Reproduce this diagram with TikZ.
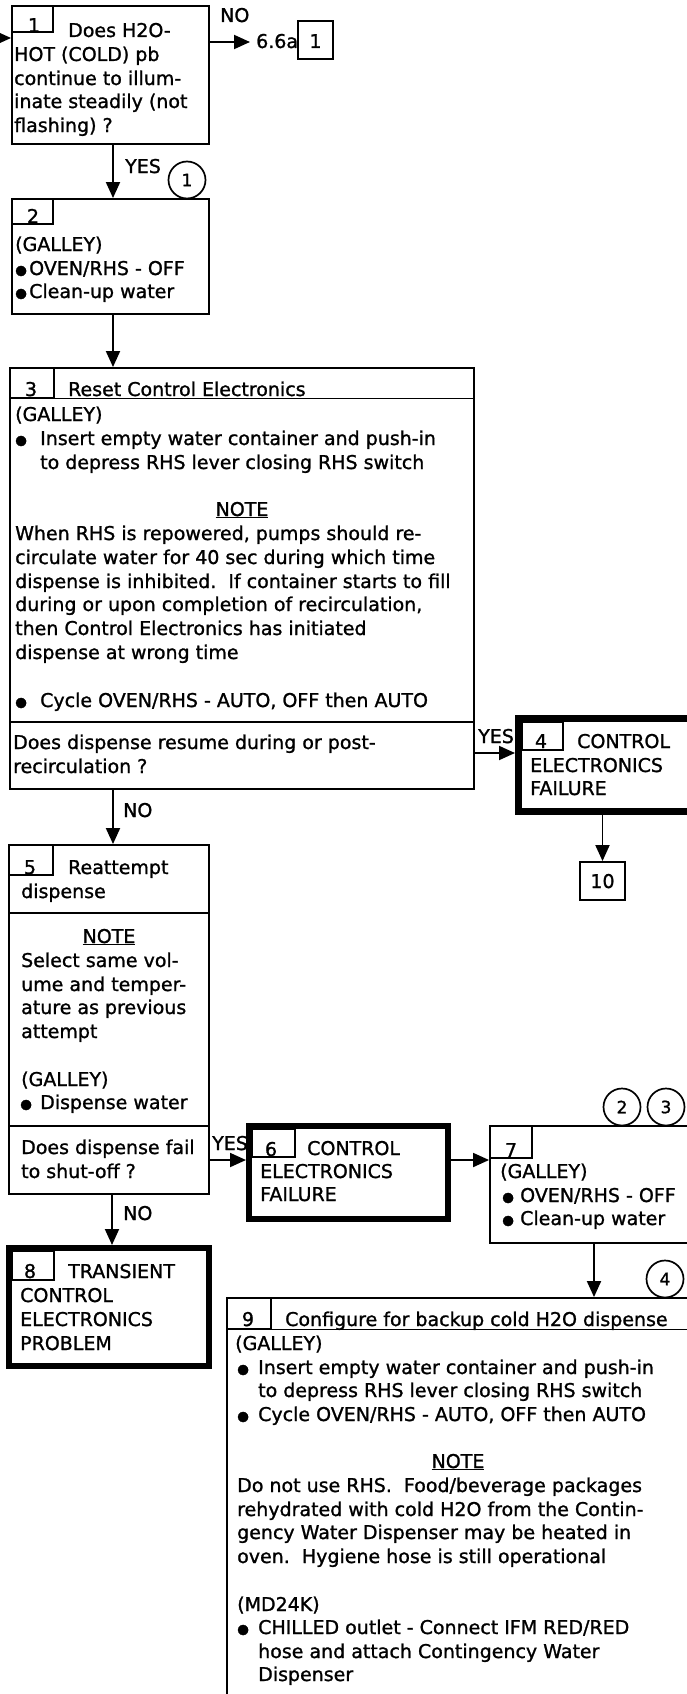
\documentclass[tikz,border=0pt]{standalone}
\usepackage{fontspec}
\setmainfont{DejaVu Sans}[FakeBold=1.2]
\usetikzlibrary{arrows.meta,fit}
\newcommand\bulsym{{\fontsize{13.5}{14}\selectfont\raisebox{0.5pt}{●}}}
\newcommand\bulw[1]{\makebox[#1][l]{\bulsym}}
\begin{document}
\begin{tikzpicture}[x=1pt,y=-1pt,
  box/.style={draw, line width=1.9pt, inner sep=0pt},
  heavybox/.style={draw, line width=6pt, inner sep=0pt},
  tabbox/.style={draw, line width=1.3pt, inner sep=0pt},
  tx/.style={anchor=base west, inner sep=0pt, font=\fontsize{19}{23}\selectfont},
  txc/.style={tx, anchor=base},
  arr/.style={line width=1.9pt, -{Triangle[length=16pt,width=14pt]}},
  circ/.style={draw, circle, line width=1.7pt, minimum size=37pt, inner sep=0pt, font=\fontsize{17}{20}\selectfont}
]
\useasboundingbox (0,0) rectangle (687,1694);
\clip (0,0) rectangle (687,1694);

% ---------- box 1
\node[box, fit={(12,6)(209,144)}] (b1) {};
\node[tabbox, fit={(12,6)(53,32)}] (t1) {};
\node[txc] (n1) at (34,32) {1};
\node[tx] (l1a) at (68,37) {Does H2O-};
\node[tx] (l1b) at (14,61) {HOT (COLD) pb};
\node[tx] (l1c) at (14,85) {continue to illum-};
\node[tx] (l1d) at (14,108) {inate steadily (not};
\node[tx] (l1e) at (14,132) {flashing) ?};
\coordinate (in1) at (-30,38);
\draw[arr] (in1) -- (b1.west |- in1);

% NO exit
\node[box, fit={(298,21)(333,59)}] (r1) {};
\node[txc] (r1t) at (315.5,48) {1};
\node[tx] (ref) at (256,48) {6.6a};
\coordinate (noend) at (250,42);
\draw[arr] (b1.east |- noend) -- (noend);
\node[tx] (lno1) at (220,22) {NO};

% ---------- box 2
\node[box, fit={(12,199)(209,314)}] (b2) {};
\node[tabbox, fit={(12,199)(53,224)}] (t2) {};
\node[txc] (n2) at (33,223) {2};
\node[tx] (l2a) at (15,251) {(GALLEY)};
\node[tx] (l2b) at (15,275) {\bulw{14pt}OVEN/RHS - OFF};
\node[tx] (l2c) at (15,298) {\bulw{14pt}Clean-up water};
\coordinate (x113) at (113,0);
\draw[arr] (b1.south -| x113) -- (b2.north -| x113);
\node[tx] (lyes1) at (125,173) {YES};
\node[circ] (c1) at (187,180) {1};

% ---------- box 3
\node[box, fit={(10,368)(474,789)}] (b3) {};
\node[tabbox, fit={(10,368)(54,398)}] (t3) {};
\draw[line width=1.3pt] (b3.west |- t3.south) -- (b3.east |- t3.south);
\coordinate (d3) at (0,722);
\draw[line width=1.3pt] (b3.west |- d3) -- (b3.east |- d3);
\draw[arr] (b2.south -| x113) -- (b3.north -| x113);
\node[txc] (n3) at (31,396) {3};
\node[tx] (h3) at (68,396) {Reset Control Electronics};
\node[tx] (l3a) at (15,421) {(GALLEY)};
\node[tx] (l3b) at (15,445) {\bulw{25pt}Insert empty water container and push-in};
\node[tx] (l3c) at (40,469) {to depress RHS lever closing RHS switch};
\node[txc] (l3d) at (242,516) {\underline{NOTE}};
\node[tx] (l3e) at (15,540) {When RHS is repowered, pumps should re-};
\node[tx] (l3f) at (15,564) {circulate water for 40 sec during which time};
\node[tx] (l3g) at (15,588) {dispense is inhibited.\ \ If container starts to fill};
\node[tx] (l3h) at (15,611) {during or upon completion of recirculation,};
\node[tx] (l3i) at (15,635) {then Control Electronics has initiated};
\node[tx] (l3j) at (15,659) {dispense at wrong time};
\node[tx] (l3k) at (15,707) {\bulw{25pt}Cycle OVEN/RHS - AUTO, OFF then AUTO};
\node[tx] (l3l) at (13,749) {Does dispense resume during or post-};
\node[tx] (l3m) at (13,773) {recirculation ?};

% ---------- box 4
\node[heavybox, line width=7pt, fit={(518.5,718.5)(720,811.5)}] (b4) {};
\node[tabbox, fit={(522,722)(563,750)}] (t4) {};
\node[txc] (n4) at (541,748) {4};
\node[tx] (l4a) at (577,748) {CONTROL};
\node[tx] (l4b) at (530,772) {ELECTRONICS};
\node[tx] (l4c) at (530,795) {FAILURE};
\coordinate (y753) at (0,753);
\draw[arr] (b3.east |- y753) -- (b4.west |- y753);
\node[tx] (lyes3) at (478,743) {YES};

% box 10
\node[box, fit={(580,862)(625,900)}] (b10) {};
\node[txc] (n10) at (602.5,888) {10};
\draw[arr] (b4.south -| b10) -- (b10.north);

% ---------- box 5
\node[box, fit={(9,845)(209,1194)}] (b5) {};
\node[tabbox, fit={(9,845)(53,875)}] (t5) {};
\coordinate (d5a) at (0,913);
\coordinate (d5b) at (0,1126);
\draw[line width=1.3pt] (b5.west |- d5a) -- (b5.east |- d5a);
\draw[line width=1.3pt] (b5.west |- d5b) -- (b5.east |- d5b);
\node[txc] (n5) at (30,874) {5};
\node[tx] (l5a) at (68,874) {Reattempt};
\node[tx] (l5b) at (21,898) {dispense};
\node[txc] (l5c) at (109,943) {\underline{NOTE}};
\node[tx] (l5d) at (21,967) {Select same vol-};
\node[tx] (l5e) at (21,991) {ume and temper-};
\node[tx] (l5f) at (21,1014) {ature as previous};
\node[tx] (l5g) at (21,1038) {attempt};
\node[tx] (l5h) at (21,1086) {(GALLEY)};
\node[tx] (l5i) at (20,1109) {\bulw{20pt}Dispense water};
\node[tx] (l5j) at (21,1154) {Does dispense fail};
\node[tx] (l5k) at (21,1178) {to shut-off ?};
\draw[arr] (b3.south -| x113) -- (b5.north -| x113);
\node[tx] (lno3) at (123,817) {NO};

% ---------- box 6
\node[heavybox, fit={(249,1126)(448,1219)}] (b6) {};
\node[tabbox, fit={(252,1129)(295,1157)}] (t6) {};
\node[txc] (n6) at (271,1156) {6};
\node[tx] (l6a) at (307,1155) {CONTROL};
\node[tx] (l6b) at (260,1178) {ELECTRONICS};
\node[tx] (l6c) at (260,1201) {FAILURE};
\coordinate (y1160) at (0,1160);
\draw[arr] (b5.east |- y1160) -- (b6.west |- y1160);
\node[tx] (lyes5) at (212,1150) {YES};

% ---------- box 7
\node[box, fit={(490,1126)(720,1243)}] (b7) {};
\node[tabbox, fit={(490,1126)(532,1158)}] (t7) {};
\node[txc] (n7) at (511,1157) {7};
\node[tx] (l7a) at (500,1178) {(GALLEY)};
\node[tx] (l7b) at (502,1202) {\bulw{18pt}OVEN/RHS - OFF};
\node[tx] (l7c) at (502,1225) {\bulw{18pt}Clean-up water};
\draw[arr] (b6.east |- y1160) -- (b7.west |- y1160);
\node[circ] (c2) at (622,1107) {2};
\node[circ] (c3) at (666,1107) {3};

% ---------- box 8
\node[heavybox, fit={(9,1248)(209,1366)}] (b8) {};
\node[tabbox, fit={(12,1251)(54,1280)}] (t8) {};
\node[txc] (n8) at (30,1278) {8};
\node[tx] (l8a) at (68,1278) {TRANSIENT};
\node[tx] (l8b) at (20,1302) {CONTROL};
\node[tx] (l8c) at (20,1326) {ELECTRONICS};
\node[tx] (l8d) at (20,1350) {PROBLEM};
\coordinate (x112) at (112,0);
\draw[arr] (b5.south -| x112) -- (b8.north -| x112);
\node[tx] (lno5) at (123,1220) {NO};

% ---------- box 9
\node[box, fit={(227,1298)(689,1730)}] (b9) {};
\node[tabbox, fit={(227,1298)(271,1329)}] (t9) {};
\draw[line width=1.3pt] (b9.west |- t9.south) -- (b9.east |- t9.south);
\node[txc] (n9) at (248,1326) {9};
\node[tx] (h9) at (285,1326) {Configure for backup cold H2O dispense};
\node[tx] (l9a) at (235,1350) {(GALLEY)};
\node[tx] (l9b) at (237,1374) {\bulw{21pt}Insert empty water container and push-in};
\node[tx] (l9c) at (258,1397) {to depress RHS lever closing RHS switch};
\node[tx] (l9d) at (237,1421) {\bulw{21pt}Cycle OVEN/RHS - AUTO, OFF then AUTO};
\node[txc] (l9e) at (458,1468) {\underline{NOTE}};
\node[tx] (l9f) at (237,1492) {Do not use RHS.\ \ Food/beverage packages};
\node[tx] (l9g) at (237,1516) {rehydrated with cold H2O from the Contin-};
\node[tx] (l9h) at (237,1539) {gency Water Dispenser may be heated in};
\node[tx] (l9i) at (237,1563) {oven.\ \ Hygiene hose is still operational};
\node[tx] (l9j) at (237,1611) {(MD24K)};
\node[tx] (l9k) at (237,1634) {\bulw{21pt}CHILLED outlet - Connect IFM RED/RED};
\node[tx] (l9l) at (258,1658) {hose and attach Contingency Water};
\node[tx] (l9m) at (258,1681) {Dispenser};
\coordinate (x594) at (594,0);
\draw[arr] (b7.south -| x594) -- (b9.north -| x594);
\node[circ] (c4) at (665,1279) {4};
\end{tikzpicture}
\end{document}
